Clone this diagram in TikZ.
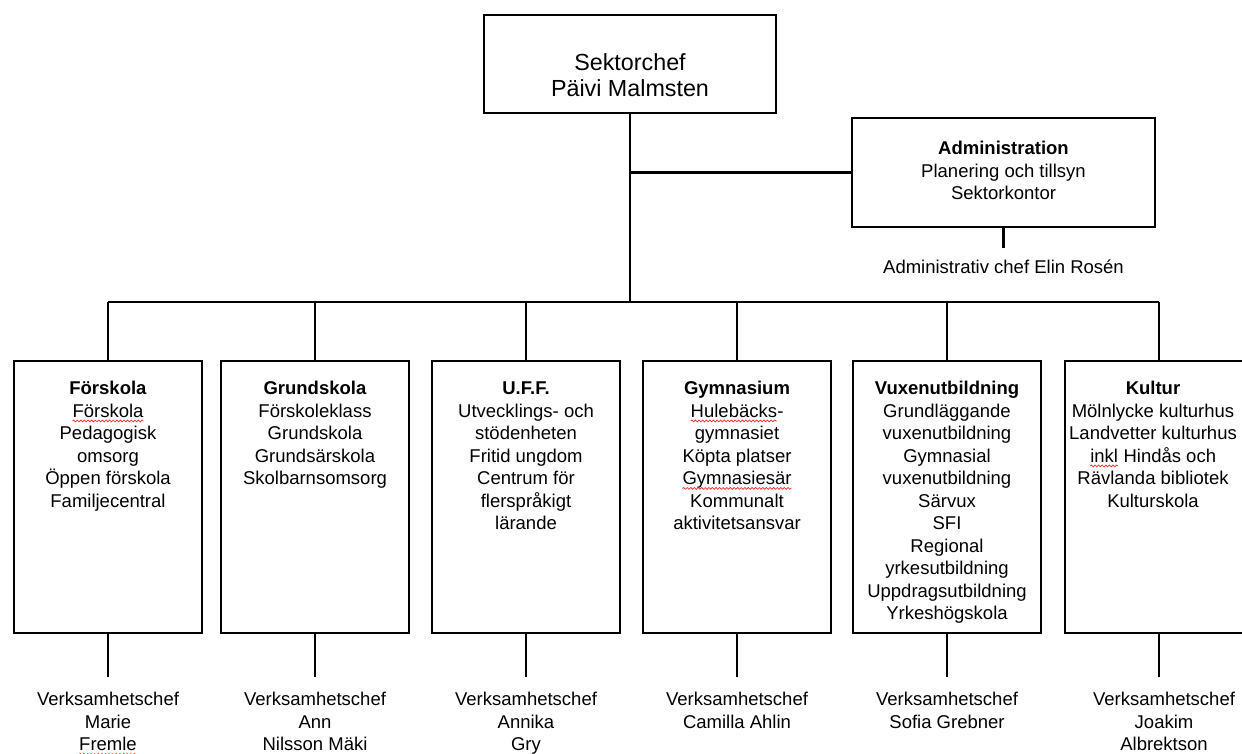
\documentclass[tikz,border=0pt]{standalone}
\usepackage{fontspec}
\setmainfont{Liberation Sans}
\usetikzlibrary{positioning, decorations.pathmorphing}

\newcommand{\topstrut}{\rule{0pt}{18pt}}
\newcommand{\stavfel}[1]{\tikz[baseline=(ord.base)]{\node[inner sep=0pt, outer sep=0pt] (ord) {#1};
  \draw[red!85!white, line width=0.7pt, decorate, decoration={snake, amplitude=0.9pt, segment length=3.6pt}]
    ([yshift=-3.8pt]ord.base west) -- ([yshift=-3.8pt]ord.base east);}}

\begin{document}
\begin{tikzpicture}[x=1pt, y=-1pt,
    box/.style={draw, line width=2.5pt, inner sep=0pt, outer sep=0pt},
    unit/.style={box, minimum width=188pt, minimum height=272pt},
    txt/.style={align=center, inner sep=0pt, outer sep=0pt, font=\fontsize{18.5pt}{22.5pt}\selectfont},
    con/.style={line width=2.2pt}]

  \useasboundingbox (0,0) rectangle (1242,754);

  % top
  \node[box, minimum width=292pt, minimum height=98pt] (chef) at (630,64) {};
  \node[txt, font=\fontsize{23.3pt}{26pt}\selectfont] (cheftxt) at ([yshift=-11pt]chef.center) {Sektorchef\\P\"aivi Malmsten};

  \node[box, minimum width=303pt, minimum height=109pt] (adm) at (1003.5,172.5) {};
  \node[txt, below=18.6pt of adm.north] (admtxt) {\topstrut\textbf{Administration}\\Planering och tillsyn\\Sektorkontor};
  \node[txt, below=28.6pt of adm.south] (admchef) {\topstrut Administrativ chef Elin Ros\'en};

  % units
  \node[unit] (f1) at (108,497) {};
  \node[unit] (f2) at (315,497) {};
  \node[unit] (f3) at (526,497) {};
  \node[unit] (f4) at (737,497) {};
  \node[unit] (f5) at (947,497) {};
  \node[unit] (f6) at (1159,497) {};

  \node[txt, below=15.6pt of f1.north] (t1) {\topstrut\textbf{F\"orskola}\\\stavfel{F\"orskola}\\Pedagogisk\\omsorg\\\"Oppen f\"orskola\\Familjecentral};
  \node[txt, below=15.6pt of f2.north] (t2) {\topstrut\textbf{Grundskola}\\F\"orskoleklass\\Grundskola\\Grunds\"arskola\\Skolbarnsomsorg};
  \node[txt, below=15.6pt of f3.north] (t3) {\topstrut\textbf{U.F.F.}\\Utvecklings- och\\st\"odenheten\\Fritid ungdom\\Centrum f\"or\\flerspr\aa kigt\\l\"arande};
  \node[txt, below=15.6pt of f4.north] (t4) {\topstrut\textbf{Gymnasium}\\\stavfel{Huleb\"acks}-\\gymnasiet\\K\"opta platser\\\stavfel{Gymnasies\"ar}\\Kommunalt\\aktivitetsansvar};
  \node[txt, below=15.6pt of f5.north] (t5) {\topstrut\textbf{Vuxenutbildning}\\Grundl\"aggande\\vuxenutbildning\\Gymnasial\\vuxenutbildning\\S\"arvux\\SFI\\Regional\\yrkesutbildning\\Uppdragsutbildning\\Yrkesh\"ogskola};
  \node[txt, below=15.6pt of f6.north, xshift=-6pt] (t6) {\topstrut\textbf{Kultur}\\M\"olnlycke kulturhus\\Landvetter kulturhus\\\stavfel{inkl} Hind\aa s och\\R\"avlanda bibliotek\\Kulturskola};

  \node[txt, below=54.6pt of f1.south] (c1) {\topstrut Verksamhetschef\\Marie\\\stavfel{Fremle}};
  \node[txt, below=54.6pt of f2.south] (c2) {\topstrut Verksamhetschef\\Ann\\Nilsson M\"aki};
  \node[txt, below=54.6pt of f3.south] (c3) {\topstrut Verksamhetschef\\Annika\\Gry};
  \node[txt, below=54.6pt of f4.south] (c4) {\topstrut Verksamhetschef\\Camilla Ahlin};
  \node[txt, below=54.6pt of f5.south] (c5) {\topstrut Verksamhetschef\\Sofia Grebner};
  \node[txt, below=54.6pt of f6.south, xshift=5pt] (c6) {\topstrut Verksamhetschef\\Joakim\\Albrektson};

  % lines
  \coordinate (bus) at (630,302);
  \draw[con] (chef.south) -- (bus);
  \draw[con] (chef.south |- adm.west) -- (adm.west);
  \draw[con, shorten >=7.6pt] (adm.south) -- (admchef.north);
  \draw[con] (f1.north |- bus) -- (f6.north |- bus);
  \foreach \b in {f1,f2,f3,f4,f5,f6}
    \draw[con] (\b.north) -- (\b.north |- bus);
  \foreach \b/\c in {f1/c1,f2/c2,f3/c3,f4/c4,f5/c5}
    \draw[con, shorten >=10.6pt] (\b.south) -- (\c.north);
  \draw[con, shorten >=10.6pt] (f6.south) -- (f6.south |- c6.north);
\end{tikzpicture}
\end{document}
